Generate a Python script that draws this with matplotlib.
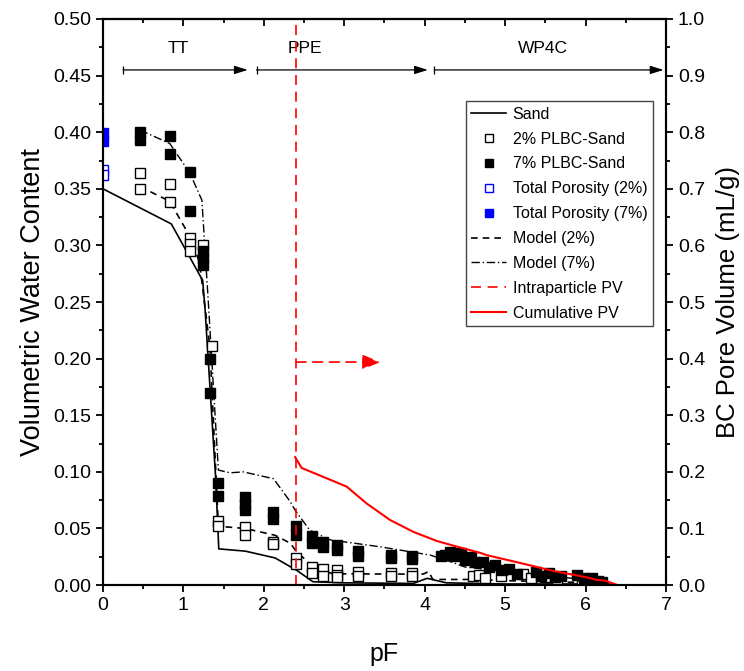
import matplotlib
matplotlib.use("Agg")
import matplotlib.pyplot as plt

narrow = ['Liberation Sans Narrow', 'Liberation Sans', 'DejaVu Sans']
regular = ['Liberation Sans', 'DejaVu Sans']
plt.rcParams['font.family'] = regular

# ---- data ----
sand_pf = [0, 0.85, 1.24, 1.27, 1.40, 1.44, 1.77, 2.14, 2.41, 2.61, 3.0, 3.86, 4.03, 4.27, 5.0, 6.3]
sand_vwc = [0.350, 0.319, 0.269, 0.243, 0.096, 0.032, 0.030, 0.024, 0.013, 0.003, 0.002, 0.0015, 0.006, 0.002, 0.001, 0.001]

p2_pf = [0.46, 0.46, 0.83, 0.83, 1.08, 1.08, 1.08, 1.24, 1.35, 1.43, 1.43, 1.77, 1.77, 2.12, 2.12,
         2.4, 2.4, 2.6, 2.6, 2.73, 2.73, 2.91, 2.91, 2.91, 3.17, 3.17, 3.58, 3.58, 3.84, 3.84,
         4.6, 4.68, 4.75, 4.95, 5.22, 5.32, 5.5, 5.65, 5.95]
p2_vwc = [0.364, 0.350, 0.354, 0.338, 0.307, 0.301, 0.295, 0.300, 0.211, 0.057, 0.052, 0.051, 0.044, 0.038, 0.036,
          0.024, 0.019, 0.016, 0.011, 0.014, 0.008, 0.013, 0.009, 0.007, 0.012, 0.008, 0.011, 0.008, 0.011, 0.008,
          0.008, 0.009, 0.006, 0.008, 0.010, 0.006, 0.007, 0.005, 0.004]

p7_pf = [0.46, 0.46, 0.83, 0.83, 1.08, 1.08, 1.24, 1.24, 1.24, 1.33, 1.33, 1.43, 1.43, 1.77, 1.77, 1.77,
         2.12, 2.12, 2.4, 2.4, 2.6, 2.6, 2.73, 2.73, 2.91, 2.91, 3.17, 3.17, 3.58, 3.58, 3.84, 3.84,
         4.2, 4.25, 4.32, 4.38, 4.45, 4.5, 4.58, 4.63, 4.72, 4.8, 4.88, 4.96, 5.05, 5.15, 5.38, 5.45,
         5.55, 5.62, 5.7, 5.9, 5.98, 6.08, 6.15, 6.2]
p7_vwc = [0.400, 0.393, 0.397, 0.381, 0.365, 0.330, 0.295, 0.289, 0.283, 0.200, 0.170, 0.090, 0.079, 0.078, 0.072, 0.066,
          0.065, 0.058, 0.052, 0.044, 0.043, 0.037, 0.038, 0.034, 0.035, 0.031, 0.030, 0.026, 0.027, 0.024, 0.026, 0.023,
          0.026, 0.027, 0.029, 0.026, 0.028, 0.022, 0.025, 0.020, 0.020, 0.016, 0.018, 0.013, 0.014, 0.010, 0.012, 0.008,
          0.011, 0.007, 0.008, 0.009, 0.006, 0.006, 0.004, 0.003]

tp2_pf = [0, 0]
tp2_vwc = [0.367, 0.362]
tp7_pf = [0, 0]
tp7_vwc = [0.399, 0.392]

m2_pf = [0.46, 0.83, 1.08, 1.2, 1.33, 1.435, 1.77, 2.14, 2.33, 2.39, 2.61, 2.86, 3.5, 3.98, 4.05, 4.1, 4.6, 5.0, 5.5, 6.2]
m2_vwc = [0.352, 0.339, 0.308, 0.285, 0.210, 0.052, 0.050, 0.044, 0.037, 0.031, 0.016, 0.010, 0.0098, 0.0097, 0.012, 0.005, 0.005, 0.004, 0.003, 0.002]

m7_pf = [0.46, 0.83, 1.08, 1.23, 1.31, 1.435, 1.58, 1.745, 2.12, 2.33, 2.39, 2.57, 2.82, 3.45, 4.07, 4.35, 4.5, 5.0, 5.5, 6.2]
m7_vwc = [0.402, 0.390, 0.364, 0.340, 0.250, 0.1016, 0.0992, 0.100, 0.094, 0.0736, 0.066, 0.0486, 0.040, 0.0338, 0.0265, 0.020, 0.016, 0.012, 0.008, 0.004]

cpv_pf = [2.39, 2.47, 3.03, 3.28, 3.57, 3.86, 4.15, 4.40, 4.69, 4.77, 5.19, 5.60, 6.02, 6.14, 6.24, 6.40]
cpv = [0.226, 0.207, 0.174, 0.144, 0.115, 0.094, 0.078, 0.068, 0.057, 0.053, 0.039, 0.025, 0.0136, 0.009, 0.008, 0.0]

ipv_pf = 2.4
regions = [('TT', 0.25, 1.80, 0.93), ('PPE', 1.91, 4.04, 2.51), ('WP4C', 4.12, 6.97, 5.47)]

# ---- figure ----
fig = plt.figure(figsize=(7.44, 6.71), dpi=100)
ax = fig.add_axes([0.1384, 0.128, 0.7567, 0.8437])
ax2 = ax.twinx()

ms = 7
h_sand, = ax.plot(sand_pf, sand_vwc, color='black', lw=1.2, label='Sand')
h_m2, = ax.plot(m2_pf, m2_vwc, color='black', lw=1.2, ls=(0, (4, 3)), label='Model (2%)')
h_m7, = ax.plot(m7_pf, m7_vwc, color='black', lw=1.0, ls=(0, (6, 2, 1, 2)), label='Model (7%)')
h_p2, = ax.plot(p2_pf, p2_vwc, ls='none', marker='s', ms=ms, mfc='white', mec='black', mew=1.0, label='2% PLBC-Sand')
h_p7, = ax.plot(p7_pf, p7_vwc, ls='none', marker='s', ms=ms, mfc='black', mec='black', mew=1.0, label='7% PLBC-Sand')
h_tp2, = ax.plot(tp2_pf, tp2_vwc, ls='none', marker='s', ms=ms, mfc='white', mec='blue', mew=1.0, label='Total Porosity (2%)')
h_tp7, = ax.plot(tp7_pf, tp7_vwc, ls='none', marker='s', ms=ms, mfc='blue', mec='blue', mew=1.0, label='Total Porosity (7%)')

h_ipv = ax2.axvline(ipv_pf, color='red', lw=1.2, ls=(0, (6, 4)), label='Intraparticle PV')
h_cpv, = ax2.plot(cpv_pf, cpv, color='red', lw=1.5, label='Cumulative PV')
ax2.annotate('', xy=(3.45, 0.394), xytext=(ipv_pf, 0.394),
             arrowprops=dict(arrowstyle='-|>,head_length=1.1,head_width=0.45', color='red',
                             lw=1.2, ls=(0, (6, 4)), shrinkA=0, shrinkB=0))

for name, x0, x1, xt in regions:
    ax.annotate('', xy=(x1, 0.455), xytext=(x0, 0.455),
                arrowprops=dict(arrowstyle='-|>,head_length=0.8,head_width=0.25',
                                color='black', lw=0.9, shrinkA=0, shrinkB=0))
    ax.plot([x0], [0.455], marker='|', ms=6, mew=0.9, color='black')
    ax.text(xt, 0.474, name, ha='center', va='center', fontsize=12.5, family=narrow)

ax.set_xlim(0, 7)
ax.set_ylim(0, 0.5)
ax2.set_ylim(0, 1.0)
ax.set_xticks(range(8))
ax.set_xticks([i + 0.5 for i in range(7)], minor=True)
ax.set_yticks([i * 0.05 for i in range(11)])
ax.set_yticks([0.025 + i * 0.05 for i in range(10)], minor=True)
ax.set_yticklabels([f'{i * 0.05:.2f}' for i in range(11)])
ax2.set_yticks([i * 0.1 for i in range(11)])
ax2.set_yticks([0.05 + i * 0.1 for i in range(10)], minor=True)
ax2.set_yticklabels([f'{i * 0.1:.1f}' for i in range(11)])

# mirrored top axis with inward ticks
top = ax.secondary_xaxis('top')
top.set_xticks(range(8))
top.set_xticks([i + 0.5 for i in range(7)], minor=True)
top.tick_params(which='both', direction='in', width=1.3, labeltop=False)
top.tick_params(which='major', length=5)
top.tick_params(which='minor', length=3)

for a in (ax, ax2):
    for s in a.spines.values():
        s.set_linewidth(1.5)
top.spines['top'].set_linewidth(1.5)
ax.tick_params(which='both', direction='out', width=1.3, labelsize=14)
ax.tick_params(which='major', length=5)
ax.tick_params(which='minor', length=3)
ax2.tick_params(which='both', direction='out', width=1.3, labelsize=14)
ax2.tick_params(which='major', length=5)
ax2.tick_params(which='minor', length=3)
for a in (ax, ax2):
    for lab in a.get_xticklabels() + a.get_yticklabels():
        lab.set_family(narrow)

ax.set_xlabel('pF', fontsize=18, family=narrow, labelpad=20)
ax.set_ylabel('Volumetric Water Content', fontsize=19.5, labelpad=5)
ax2.set_ylabel('BC Pore Volume (mL/g)', fontsize=18.5, labelpad=8)

handles = [h_sand, h_p2, h_p7, h_tp2, h_tp7, h_m2, h_m7, h_ipv, h_cpv]
leg = ax2.legend(handles=handles, loc='upper right', bbox_to_anchor=(0.977, 0.855), borderaxespad=0,
                 fontsize=11.5, frameon=True, fancybox=False, edgecolor='#444444', framealpha=1,
                 handlelength=2.2, handletextpad=0.4, borderpad=0.35, labelspacing=0.62, markerscale=0.8)
leg.get_frame().set_linewidth(1.0)

fig.savefig('out.png', dpi=100)
